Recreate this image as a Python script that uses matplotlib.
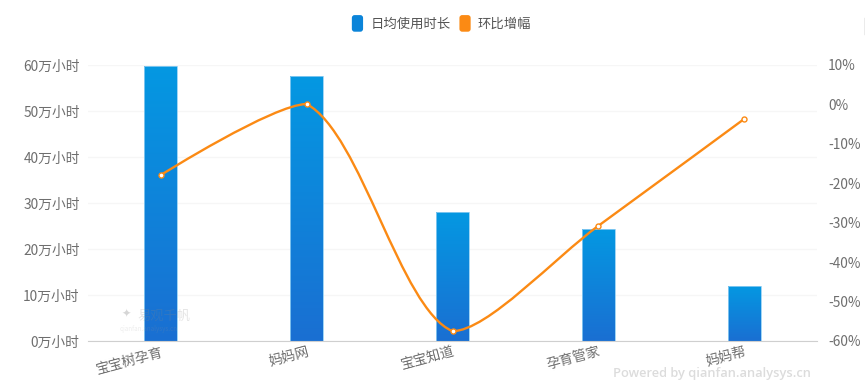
import numpy as np
import matplotlib
matplotlib.use("Agg")
import matplotlib.pyplot as plt
from matplotlib.colors import LinearSegmentedColormap
from matplotlib.legend_handler import HandlerPatch
from matplotlib.patches import FancyBboxPatch, Patch, PathPatch
from matplotlib.path import Path

plt.rcParams['font.family'] = ['Noto Sans CJK SC', 'DejaVu Sans']

apps = ["宝宝树孕育", "妈妈网", "宝宝知道", "孕育管家", "妈妈帮"]
hours = [59.7, 57.6, 28.0, 24.3, 11.9]  # 万小时
growth = [-17.9, 0.1, -57.5, -30.8, -3.7]  # %
left_ticks = [0, 10, 20, 30, 40, 50, 60]
right_ticks = [-60, -50, -40, -30, -20, -10, 0, 10]
series_names = ["日均使用时长", "环比增幅"]

W, H = 865, 391
TEXT = "#6e6e6e"
BLUE = "#0b84d9"
ORANGE = "#fb8a14"

fig = plt.figure(figsize=(W / 100, H / 100), dpi=100, facecolor="white")
ax = fig.add_axes([88 / W, (H - 341) / H, 729 / W, 276 / H])
ax.set_xlim(-0.5, 4.5)
ax.set_ylim(0, 60)
ax.set_facecolor("none")

ax.set_yticks(left_ticks)
ax.set_yticklabels([f"{t}万小时" for t in left_ticks], fontsize=9.9, color=TEXT)
ax.yaxis.grid(True, color="#f6f6f6", lw=1)
ax.set_axisbelow(True)
ax.tick_params(axis="y", length=0, pad=6)
ax.tick_params(axis="x", length=0, pad=3)
for s in ["top", "left", "right"]:
    ax.spines[s].set_visible(False)
ax.spines["bottom"].set_color("#cfcfcf")

ax.set_xticks(range(len(apps)))
ax.set_xticklabels(apps, fontsize=9.9, color=TEXT, rotation=15, ha="right", rotation_mode="anchor")

# bars with a top-to-bottom gradient
cmap = LinearSegmentedColormap.from_list("bar", ["#0498e2", "#1a6fd2"])
grad = np.linspace(0, 1, 256).reshape(-1, 1)
bars = ax.bar(range(len(apps)), hours, width=33 / 145.8, color="none", edgecolor="#8fcdf2", lw=0.6, zorder=2)
for b in bars:
    im = ax.imshow(grad, cmap=cmap, aspect="auto", zorder=1.5,
                   extent=[b.get_x(), b.get_x() + b.get_width(), 0, b.get_height()])
    im.set_clip_path(b.get_path(), b.get_transform())
ax.set_xlim(-0.5, 4.5)
ax.set_ylim(0, 60)

ax2 = ax.twinx()
ax2.set_ylim(-60, 10)
ax2.set_yticks(right_ticks)
ax2.set_yticklabels([f"{t}%" for t in right_ticks], fontsize=9.9, color=TEXT)
ax2.tick_params(axis="y", length=0, pad=8)
for s in ax2.spines.values():
    s.set_visible(False)

# smooth line, same control point rule as the web chart (clamped to min/max)
SMOOTH = 0.3
sx = 729 / 5
sy = 276 / 70
pts = np.column_stack([np.arange(len(growth)) * sx, np.array(growth) * sy])
lo = pts.min(axis=0)
hi = pts.max(axis=0)
verts = [pts[0]]
codes = [Path.MOVETO]
for i in range(len(pts) - 1):
    p0, p1 = pts[i], pts[i + 1]
    if i == 0:
        c0 = p0
    else:
        v = (pts[i + 1] - pts[i - 1]) * SMOOTH
        d0 = np.linalg.norm(p0 - pts[i - 1])
        d1 = np.linalg.norm(pts[i + 1] - p0)
        c0 = np.clip(p0 + v * d1 / (d0 + d1), lo, hi)
    if i == len(pts) - 2:
        c1 = p1
    else:
        v = (pts[i + 2] - p0) * SMOOTH
        d0 = np.linalg.norm(p1 - p0)
        d1 = np.linalg.norm(pts[i + 2] - p1)
        c1 = np.clip(p1 - v * d0 / (d0 + d1), lo, hi)
    verts += [c0, c1, p1]
    codes += [Path.CURVE4] * 3
verts = np.array(verts) / [sx, sy]
ax2.add_patch(PathPatch(Path(verts, codes), fc="none", ec=ORANGE, lw=1.7, zorder=3))
ax2.plot(range(len(growth)), growth, ls="none", marker="o", ms=3.6, mfc="white", mec=ORANGE, mew=1, zorder=4)


class RoundHandler(HandlerPatch):
    def create_artists(self, legend, orig, xd, yd, w, h, fs, trans):
        p = FancyBboxPatch((-xd + 1, -yd - 2), w - 2, h + 4, boxstyle="round,pad=0,rounding_size=2",
                           fc=orig.get_facecolor(), ec="none", transform=trans)
        return [p]


handles = [Patch(color=BLUE, label=series_names[0]), Patch(color=ORANGE, label=series_names[1])]
fig.legend(handles=handles, loc="center", bbox_to_anchor=(441 / W, (H - 24) / H), ncol=2, frameon=False,
           fontsize=9.6, labelcolor="#555555", handlelength=1.05, handleheight=0.9, handletextpad=0.45,
           columnspacing=0.55, handler_map={Patch: RoundHandler()})

# watermarks
fig.text(137 / W, (H - 316) / H, "易观千帆", fontsize=9.5, color="#888888", alpha=0.22, va="center", zorder=5)
fig.text(120 / W, (H - 329) / H, "qianfan.analysys.cn", fontsize=4.5, color="#999999", alpha=0.18, va="center", zorder=5)
fig.text(126 / W, (H - 314) / H, "✦", fontsize=8, color="#bbbbbb", alpha=0.6, va="center", ha="center", zorder=5)
fig.text(613 / W, (H - 373) / H, "Powered by qianfan.analysys.cn", fontsize=9.3, color="#dcdcdc",
         va="center", family="Open Sans", fontweight="semibold")
fig.add_artist(plt.Line2D([864.5 / W, 864.5 / W], [(H - 34) / H, (H - 18) / H], color="#999999", lw=1))

fig.savefig("out.png", dpi=100)
